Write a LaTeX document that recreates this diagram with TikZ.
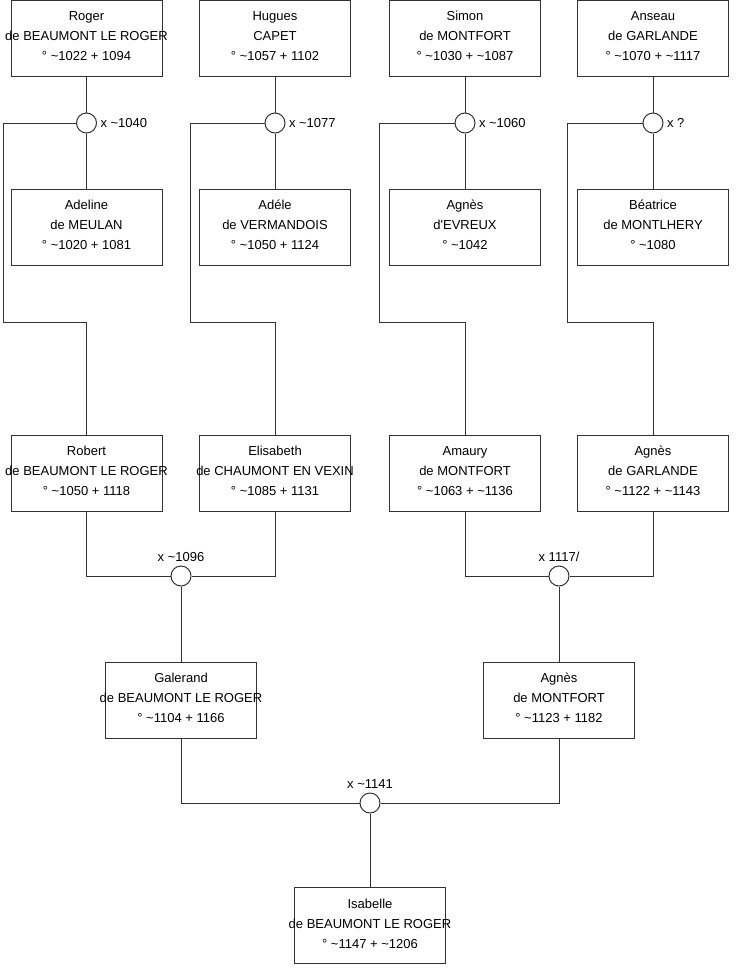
\documentclass[tikz,border=0pt]{standalone}
\usepackage{fontspec}
\setmainfont{Liberation Sans}
\usepackage{xcolor}
\definecolor{lineclr}{HTML}{333333}
\newcommand{\tl}{\textasciitilde}

\begin{document}
\begin{tikzpicture}[x=1pt, y=-1pt,
  every node/.style={font=\fontsize{13}{20}\selectfont},
  person/.style={draw=lineclr, line width=1pt, minimum width=151pt, minimum height=76pt, inner sep=0pt},
  who/.style={label={[align=center, yshift=2pt]center:{#1}}},
  wed/.style={circle, draw=lineclr, line width=1pt, fill=white, minimum size=20pt, inner sep=0pt},
  link/.style={draw=lineclr, line width=1pt}]
  \useasboundingbox (0,0) rectangle (740,975);
  % Grandparents' parents
  \node[person, who={Roger\\de BEAUMONT LE ROGER\\° \tl1022 + 1094}] (roger) at (86.5,38) {};
  \node[person, who={Hugues\\CAPET\\° \tl1057 + 1102}] (hugues) at (275,38) {};
  \node[person, who={Simon\\de MONTFORT\\° \tl1030 + \tl1087}] (simon) at (465,38) {};
  \node[person, who={Anseau\\de GARLANDE\\° \tl1070 + \tl1117}] (anseau) at (653,38) {};
  % Their marriages
  \node[wed, label={[label distance=0pt]right:x \tl1040}] (w1) at (86.5,123) {};
  \node[wed, label={[label distance=0pt]right:x \tl1077}] (w2) at (275,123) {};
  \node[wed, label={[label distance=0pt]right:x \tl1060}] (w3) at (465,123) {};
  \node[wed, label={[label distance=0pt]right:x ?}] (w4) at (653,123) {};
  % Wives
  \node[person, who={Adeline\\de MEULAN\\° \tl1020 + 1081}] (adeline) at (86.5,227) {};
  \node[person, who={Adéle\\de VERMANDOIS\\° \tl1050 + 1124}] (adele) at (275,227) {};
  \node[person, who={Agnès\\d\textquotesingle EVREUX\\° \tl1042}] (agnese) at (465,227) {};
  \node[person, who={Béatrice\\de MONTLHERY\\° \tl1080}] (beatrice) at (653,227) {};
  % Grandparents
  \node[person, who={Robert\\de BEAUMONT LE ROGER\\° \tl1050 + 1118}] (robert) at (86.5,473) {};
  \node[person, who={Elisabeth\\de CHAUMONT EN VEXIN\\° \tl1085 + 1131}] (elisabeth) at (275,473) {};
  \node[person, who={Amaury\\de MONTFORT\\° \tl1063 + \tl1136}] (amaury) at (465,473) {};
  \node[person, who={Agnès\\de GARLANDE\\° \tl1122 + \tl1143}] (agnesg) at (653,473) {};
  \node[wed, label=above:x \tl1096] (w5) at (181,576) {};
  \node[wed, label=above:x 1117/] (w6) at (559,576) {};
  % Parents
  \node[person, who={Galerand\\de BEAUMONT LE ROGER\\° \tl1104 + 1166}] (galerand) at (181,700) {};
  \node[person, who={Agnès\\de MONTFORT\\° \tl1123 + 1182}] (agnesm) at (559,700) {};
  \node[wed, label=above:x \tl1141] (w7) at (370,803) {};
  \node[person, who={Isabelle\\de BEAUMONT LE ROGER\\° \tl1147 + \tl1206}] (isabelle) at (370,925.5) {};

  % Turning points of the child lines
  \coordinate (d1) at (3,322);
  \coordinate (d2) at (190,322);
  \coordinate (d3) at (379,322);
  \coordinate (d4) at (567,322);

  \foreach \h/\w/\f/\d/\c in {roger/w1/adeline/d1/robert, hugues/w2/adele/d2/elisabeth,
      simon/w3/agnese/d3/amaury, anseau/w4/beatrice/d4/agnesg} {
    \draw[link] (\h) -- (\w) -- (\f);
    \draw[link] (\w.west) -| (\d) -| (\c.north);
  }
  \draw[link] (robert.south) |- (w5.west);
  \draw[link] (elisabeth.south) |- (w5.east);
  \draw[link] (w5) -- (galerand);
  \draw[link] (amaury.south) |- (w6.west);
  \draw[link] (agnesg.south) |- (w6.east);
  \draw[link] (w6) -- (agnesm);
  \draw[link] (galerand.south) |- (w7.west);
  \draw[link] (agnesm.south) |- (w7.east);
  \draw[link] (w7) -- (isabelle);
\end{tikzpicture}
\end{document}
